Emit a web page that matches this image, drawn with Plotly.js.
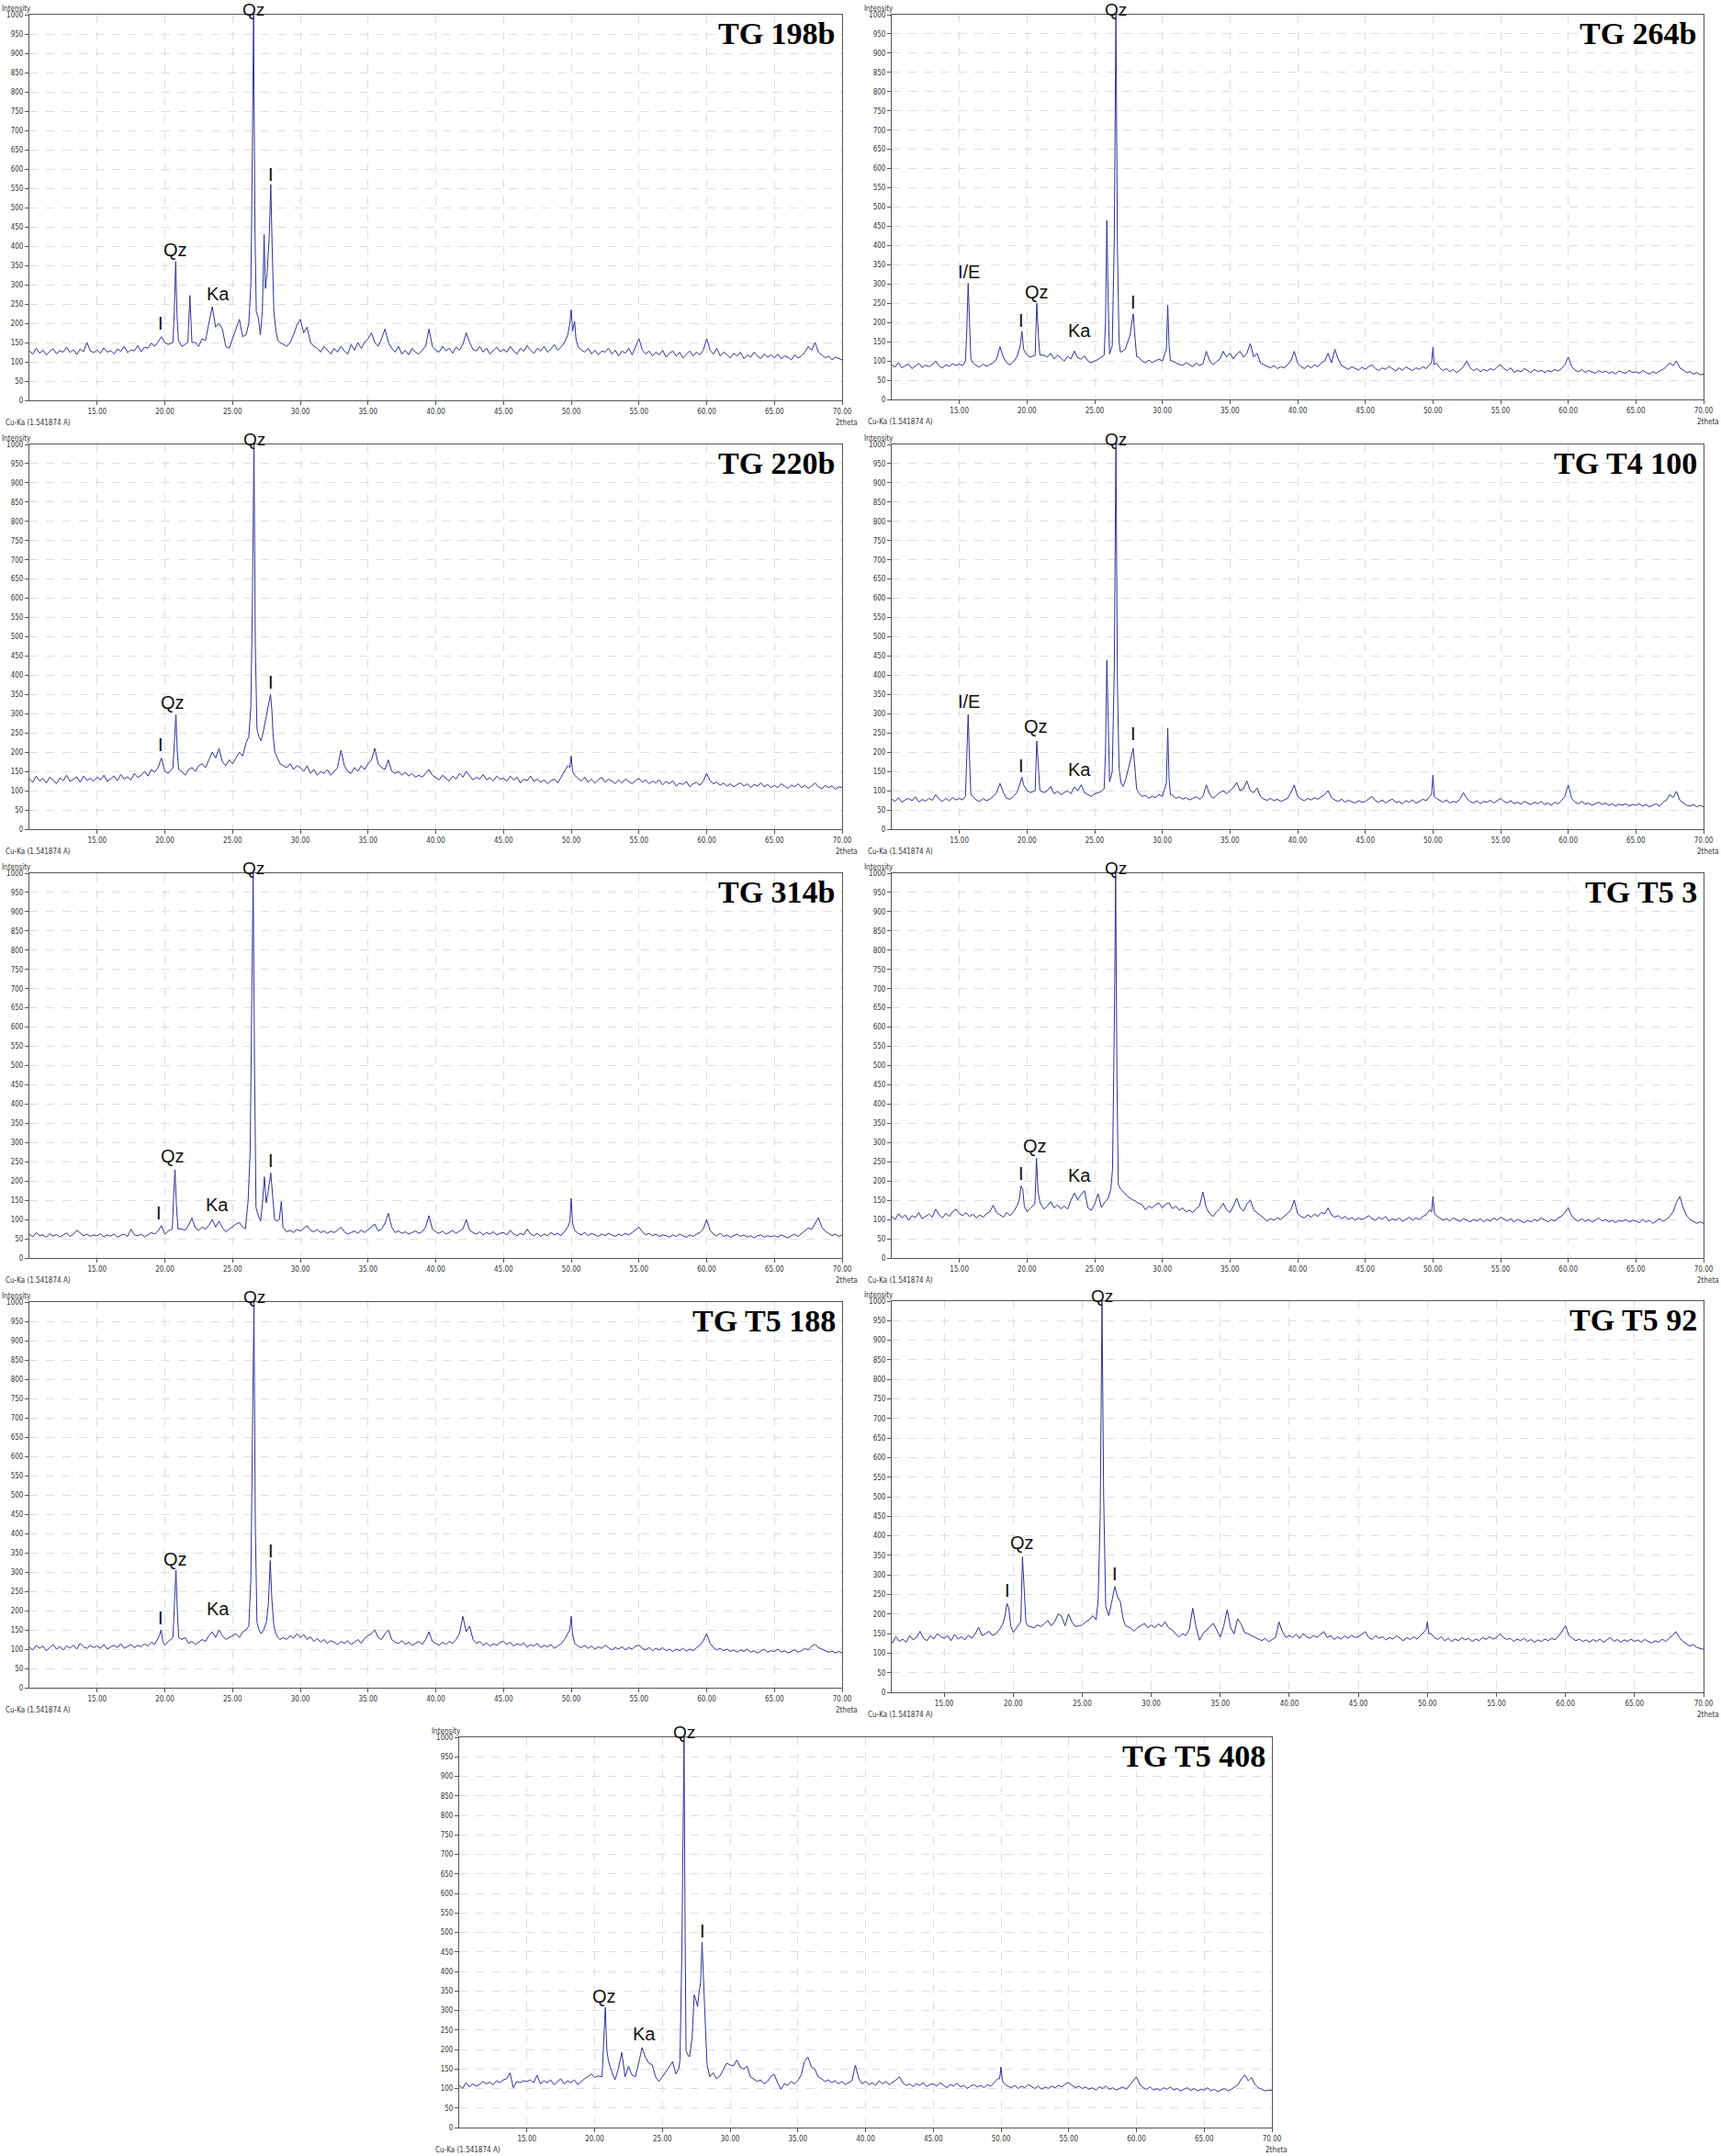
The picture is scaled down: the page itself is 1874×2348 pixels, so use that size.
<!DOCTYPE html>
<html><head><meta charset="utf-8">
<script src="https://cdn.plot.ly/plotly-3.0.1.min.js"></script>
<style>html,body{margin:0;padding:0;background:#fff;}#chart{width:1874px;height:2348px;}</style>
</head><body><div id="chart"></div>
<script>
// 2theta scan sampling (degrees)
const scanStart = 10, scanStep = 0.25;
const xTickVals = [15, 20, 25, 30, 35, 40, 45, 50, 55, 60, 65, 70];
const panelNames = ['TG 198b', 'TG 264b', 'TG 220b', 'TG T4 100', 'TG 314b', 'TG T5 3', 'TG T5 188', 'TG T5 92', 'TG T5 408'];
const xStart = [10, 10, 10, 10, 10, 10, 10, 11.2, 10];

// ---- TG 198b ----
const y198b = [
128,120,135,122,130,118,127,134,121,129,125,138,124,131,119,133,126,150,128,124,
130,122,136,125,129,120,133,127,140,124,131,128,142,126,138,135,148,140,152,165,
150,145,150,360,150,140,145,200,200,150,140,160,155,200,243,190,200,185,140,135,
160,185,210,165,170,300,1000,230,170,430,330,560,230,170,150,145,140,150,170,195,
210,175,190,150,140,135,125,140,130,120,135,125,140,128,120,145,130,150,135,150,
160,175,150,140,160,185,150,135,125,140,120,130,118,135,125,120,130,140,185,140,
130,125,140,128,135,122,138,130,145,175,150,132,128,140,125,135,120,130,138,126,
132,125,140,128,120,135,127,142,130,122,135,128,140,125,133,145,130,138,150,170,
230,200,140,130,125,135,120,130,118,128,125,135,120,130,115,128,122,135,118,140,
160,130,120,128,115,125,118,130,112,122,128,115,125,110,120,128,115,125,118,130,
160,130,120,135,115,125,118,110,122,115,125,108,118,112,125,115,108,120,112,118,
110,120,108,115,112,105,118,110,115,125,140,130,150,125,118,110,115,105,112,108,
105];
const pk198bX = [20.6,20.7,20.8,20.9,21.0, 21.7,21.85,22.0, 26.2,26.35,26.45,26.55,26.65,26.75,26.9,27.05,27.2,27.33,27.42,27.55,27.7,27.82,27.92,28.05,28.2,28.35, 49.9,50.0,50.1,50.25,50.35];
const pk198bY = [150,230,360,220,155, 150,272,150, 200,300,600,1000,450,230,215,170,230,430,290,330,420,560,400,230,180,155, 200,235,180,205,160];
const lab198bText = ['Qz','I','Ka','I'];
const lab198bX = [20.8, 19.7, 23.95, 27.8];
const lab198bY = [372, 180, 256, 566];

// ---- TG 264b ----
const y264b = [
90,84,96,82,88,92,80,86,94,83,89,85,91,100,87,82,90,86,93,88,
92,88,300,200,95,88,84,92,86,90,95,105,137,110,95,90,98,110,150,175,
115,110,250,250,115,115,110,120,105,115,108,100,112,105,126,108,105,113,100,95,
100,104,110,300,250,400,1000,150,125,130,145,222,175,110,100,95,102,96,100,105,
100,125,245,100,95,92,88,96,90,85,95,88,92,125,100,90,98,105,125,110,
120,105,118,125,110,120,145,110,120,95,90,85,82,88,80,85,82,90,100,125,
95,85,80,88,82,90,85,95,100,120,95,130,105,88,82,78,85,80,76,84,
78,85,90,80,75,82,78,86,80,74,82,76,84,80,75,82,78,85,80,90,
135,95,82,75,80,72,78,70,76,85,100,82,75,80,72,78,74,80,76,85,
90,80,75,82,70,76,72,80,74,70,78,72,76,70,75,72,78,74,80,90,
110,85,76,72,78,70,75,72,68,75,70,74,68,72,66,74,70,68,75,70,
72,68,75,70,66,72,68,74,78,85,95,88,100,82,75,70,72,66,70,64,
66];
const pk264bX = [15.45,15.55,15.65,15.75,15.85, 19.5,19.62,19.75, 20.6,20.72,20.85,20.95, 25.7,25.8,25.9,26.0,26.1,26.3,26.45,26.57,26.68,26.8,26.9,27.05, 27.6,27.72,27.85,27.95,28.1, 30.3,30.4,30.5,30.6, 49.9,50.0,50.1];
const pk264bY = [100,180,302,200,105, 140,177,130, 115,250,160,115, 115,200,465,250,118,140,420,1000,400,150,123,125, 165,190,222,175,112, 130,245,140,100, 95,135,90];
const lab264bText = ['I/E','I','Qz','Ka','I'];
const lab264bX = [15.7, 19.6, 20.73, 23.85, 27.85];
const lab264bY = [312, 186, 260, 160, 233];

// ---- TG 220b ----
const y220b = [
130,122,138,125,132,120,135,128,118,133,126,140,124,130,136,122,138,127,132,125,
135,128,140,124,132,138,126,142,130,136,128,145,134,140,150,138,155,148,160,185,
150,145,298,298,155,150,140,155,160,150,165,170,160,180,200,185,210,175,165,180,
170,185,200,190,225,320,1000,260,240,250,300,350,240,190,170,165,160,170,155,165,
160,150,165,145,155,140,150,145,155,140,150,160,205,165,150,145,160,150,165,155,
170,180,210,170,160,155,180,150,145,150,140,148,138,145,135,140,135,145,155,140,
135,128,140,132,125,138,130,145,135,150,140,128,135,130,142,128,134,125,138,130,
132,125,138,128,135,120,130,126,138,124,130,122,128,118,126,130,120,135,150,165,
190,140,132,125,135,122,130,120,128,135,122,130,125,118,128,120,130,124,118,126,
132,122,128,118,125,120,128,115,124,118,126,112,120,116,124,110,118,122,114,125,
145,125,118,122,114,120,112,118,110,116,120,112,118,108,116,112,120,110,116,108,
114,108,118,112,106,115,110,118,108,114,106,112,120,110,105,114,108,112,104,110,
108];
const pk220bX = [20.6,20.72,20.82,20.92,21.02, 26.2,26.35,26.47,26.58,26.68,26.8,26.95,27.1,27.25,27.4,27.55,27.7,27.8,27.9,28.0,28.12, 49.9,50.0,50.1];
const pk220bY = [160,230,298,200,155, 240,320,600,1000,480,260,240,230,250,280,300,330,350,310,240,200, 160,190,150];
const lab220bText = ['I','Qz','I'];
const lab220bX = [19.7, 20.6, 27.8];
const lab220bY = [200, 310, 362];

// ---- TG T4 100 ----
const yT4100 = [
78,72,82,70,76,80,74,84,71,77,73,80,75,90,78,72,80,74,82,76,
80,76,298,180,85,76,72,80,74,78,85,95,119,95,80,78,85,95,135,115,
100,95,229,229,100,95,100,111,92,98,90,95,100,92,110,100,115,95,90,85,
92,95,98,439,240,420,1000,159,111,140,159,210,170,95,85,88,80,86,82,90,
85,110,262,88,80,84,78,82,76,80,84,78,85,115,90,80,88,95,100,92,
100,108,121,100,105,125,100,95,107,85,78,75,80,74,78,72,76,80,95,115,
85,78,74,80,76,82,78,85,90,100,82,76,72,78,70,75,72,68,74,70,
72,78,85,74,70,76,68,74,78,70,72,66,74,70,76,68,72,78,74,85,
140,80,74,70,76,68,72,70,78,95,80,72,68,74,66,72,70,75,68,74,
80,72,68,74,66,70,65,72,68,64,70,66,72,64,68,62,70,66,74,85,
115,80,70,66,72,65,68,62,66,70,64,68,62,66,60,65,62,66,60,64,
62,66,60,64,58,62,66,60,70,75,90,82,98,75,68,62,60,64,58,62,
58];
const pkT4100X = [15.45,15.55,15.65,15.75,15.85, 19.5,19.62,19.75, 20.6,20.72,20.85,20.95, 25.7,25.8,25.9,26.0,26.1,26.3,26.45,26.57,26.68,26.8,26.95,27.1,27.3,27.5,27.7,27.85,27.95,28.1, 30.3,30.4,30.5,30.6, 49.9,50.0,50.1];
const pkT4100Y = [85,170,298,180,90, 120,135,115, 100,229,140,100, 105,200,439,240,123,150,420,1000,380,159,120,111,130,159,185,210,170,105, 120,262,130,90, 90,140,85];
const labT4100Text = ['I/E','I','Qz','Ka','I'];
const labT4100X = [15.7, 19.6, 20.68, 23.9, 27.85];
const labT4100Y = [312, 145, 248, 136, 228];

// ---- TG 314b ----
const y314b = [
62,55,66,58,60,54,63,57,61,55,59,65,56,62,72,64,58,62,56,60,
58,63,55,60,57,62,54,59,62,56,75,60,58,62,55,60,66,62,70,84,
62,70,229,229,76,75,72,85,104,78,72,80,75,85,100,80,96,78,68,75,
82,88,92,80,76,600,1000,131,96,211,170,221,100,96,100,85,68,72,66,74,
70,78,84,72,68,74,66,70,64,70,66,72,80,68,62,66,70,64,72,66,
74,80,88,70,75,90,116,80,66,70,64,68,62,66,70,64,68,80,110,75,
68,64,70,62,66,72,64,70,75,100,72,66,62,68,60,66,62,68,60,64,
66,60,72,62,58,64,60,75,62,58,64,56,62,58,66,60,64,58,68,80,
155,72,64,60,66,58,64,60,56,62,58,64,60,56,62,58,64,60,66,72,
80,68,60,64,58,62,56,60,58,54,60,56,62,58,54,60,56,62,66,75,
100,72,62,58,64,56,60,54,58,62,56,60,54,58,52,58,60,54,58,55,
58,54,60,56,52,58,62,56,64,70,78,74,88,105,80,70,64,58,62,56,
60];
const pk314bX = [20.55,20.65,20.75,20.85,20.97, 25.95,26.15,26.3,26.42,26.52,26.62,26.73,26.9,27.07,27.2,27.35,27.48,27.62,27.82,27.95,28.1,28.25,28.45,28.6,28.72, 49.9,50.0,50.1];
const pk314bY = [75,160,229,140,76, 76,150,280,600,1000,500,131,110,96,140,211,143,170,221,160,100,96,100,147,80, 95,155,90];
const lab314bText = ['I','Qz','Ka','I'];
const lab314bX = [19.55, 20.6, 23.84, 27.8];
const lab314bY = [98, 247, 120, 234];

// ---- TG T5 3 ----
const yT53 = [
108,100,115,104,112,98,110,105,118,102,108,114,106,127,112,104,116,108,120,127,
115,110,118,108,114,104,112,106,115,120,137,118,112,106,118,110,120,135,187,180,
120,130,259,259,143,127,135,147,130,138,128,135,127,150,169,151,165,175,130,124,
140,167,131,145,155,600,1000,191,174,165,158,152,148,142,139,125,135,130,138,143,
130,140,143,128,135,124,130,120,124,118,128,135,171,130,115,108,120,128,142,125,
118,135,155,130,122,140,151,125,118,110,104,96,102,98,105,100,108,115,125,150,
115,108,104,112,106,114,108,118,115,130,112,106,110,102,108,100,105,98,104,100,
104,110,102,98,106,100,108,96,102,98,104,95,100,106,98,104,100,108,112,125,
160,110,104,98,102,96,104,100,95,102,98,94,100,96,102,94,100,96,104,98,
106,100,96,102,94,100,96,92,98,94,100,96,104,98,94,100,96,104,108,118,
130,110,100,96,102,95,100,94,98,104,96,100,94,98,92,98,95,100,94,98,
96,92,100,94,98,90,96,102,95,100,108,120,145,160,130,110,100,95,90,94,
90];
const pkT53X = [19.42,19.55,19.68,19.8, 20.58,20.7,20.82,20.97, 26.2,26.32,26.45,26.55,26.65,26.75,26.9,27.06, 49.9,50.0,50.12];
const pkT53Y = [150,187,180,135, 140,259,170,143, 180,231,600,1000,450,191,180,174, 120,160,115];
const labT53Text = ['I','Qz','Ka'];
const labT53X = [19.55, 20.56, 23.9];
const labT53Y = [200, 273, 196];

// ---- TG T5 188 ----
const yT5188 = [
105,98,110,102,108,96,104,112,100,106,98,108,103,110,100,115,106,102,110,104,
108,102,112,100,106,110,104,114,102,108,112,104,110,106,114,108,118,112,135,150,
110,120,230,305,130,125,130,115,120,112,118,125,120,135,145,130,150,135,125,130,
135,140,130,145,150,280,1000,170,140,150,170,330,160,130,125,130,125,135,128,140,
130,138,125,132,120,128,118,125,115,122,118,112,120,115,122,112,118,125,115,128,
135,140,150,130,125,140,150,125,118,115,122,112,118,110,115,120,112,125,145,120,
115,110,118,112,120,115,125,140,185,145,160,125,115,120,110,116,108,114,110,118,
120,112,118,108,114,110,116,105,112,108,115,104,110,106,112,102,108,114,125,140,
185,115,108,104,110,102,108,100,106,102,110,104,98,104,100,106,98,104,100,108,
110,102,98,104,96,102,98,104,96,100,94,100,96,102,95,100,96,104,110,122,
140,115,104,98,102,96,100,94,98,92,98,94,100,92,96,90,95,100,92,96,
94,100,92,96,90,95,98,92,96,102,98,108,112,104,100,96,92,95,90,94,
90];
const pkT5188X = [19.6,19.72,19.85, 20.6,20.72,20.82,20.92,21.02, 26.2,26.35,26.47,26.58,26.68,26.8,26.95,27.1,27.3,27.5,27.65,27.78,27.9,28.05,28.2,28.35, 49.9,50.0,50.1];
const pkT5188Y = [135,150,120, 130,230,305,200,130, 160,280,600,1000,420,170,150,140,150,170,220,330,230,160,140,130, 150,185,140];
const labT5188Text = ['I','Qz','Ka','I'];
const labT5188X = [19.7, 20.8, 23.9, 27.8];
const labT5188Y = [162, 314, 185, 335];

// ---- TG T5 92 ----
const yT592 = [
135,128,140,132,138,126,142,130,136,128,145,134,140,156,138,132,145,136,150,142,
138,145,132,148,136,142,134,146,138,150,166,145,150,156,145,150,160,175,227,215,
153,165,346,346,170,168,165,172,168,175,184,170,180,200,195,170,200,180,168,170,
172,180,185,196,185,450,1000,219,225,270,245,231,190,168,165,156,165,170,176,165,
172,165,175,168,180,165,160,150,141,150,145,160,215,165,133,150,160,168,176,160,
141,170,211,165,149,188,175,153,150,145,140,135,132,138,129,135,140,180,155,140,
145,140,148,138,150,142,138,145,140,148,155,140,145,135,142,136,144,138,146,140,
142,148,155,140,135,145,138,142,134,140,136,145,138,132,140,135,142,136,145,155,
180,150,140,135,142,132,138,130,136,132,140,134,138,130,136,132,140,135,142,136,
140,150,140,135,138,130,136,132,138,130,135,128,134,130,136,132,138,134,145,155,
170,145,138,132,136,130,134,128,135,130,136,128,134,140,130,135,128,134,130,136,
130,134,128,135,130,126,132,128,136,130,138,145,155,140,130,125,118,122,115,112,
110];
const pkT592X = [19.4,19.55,19.68,19.82, 20.55,20.67,20.8,20.92,21.05, 26.15,26.3,26.43,26.55,26.7,26.92,27.1,27.36,27.55,27.76,27.95,28.1, 49.9,50.0,50.1];
const pkT592Y = [195,227,215,170, 180,346,250,180,170, 235,450,1000,500,219,196,225,270,245,231,190,172, 160,180,150];
const labT592Text = ['I','Qz','I'];
const labT592X = [19.55, 20.64, 27.36];
const labT592Y = [241, 364, 284];

// ---- TG T5 408 ----
const yT5408 = [
108,100,115,104,112,106,110,118,112,116,110,120,115,122,125,140,102,118,115,120,
118,122,115,134,112,120,115,122,110,118,125,112,120,115,122,110,118,125,130,137,
128,132,308,308,170,145,122,150,192,130,157,135,130,165,205,180,165,161,130,118,
130,141,155,169,137,448,1000,196,181,340,310,475,291,161,130,140,125,132,150,165,
160,158,173,155,150,157,130,125,118,122,112,118,130,137,115,98,112,108,118,112,
120,135,170,181,155,150,130,125,118,122,115,120,112,118,110,115,120,160,125,112,
118,110,115,108,120,112,118,110,115,122,130,115,108,112,105,112,108,115,105,110,
112,106,115,108,102,110,106,114,104,108,100,106,110,104,108,102,110,106,115,125,
155,112,106,102,108,100,106,102,110,104,100,106,98,104,100,106,102,108,104,112,
115,108,102,106,100,104,98,102,96,104,100,106,98,102,96,100,104,98,108,118,
130,110,102,98,104,96,100,95,102,98,104,96,100,94,98,102,95,100,94,98,
96,102,94,98,92,97,100,94,98,104,110,125,135,120,128,110,102,98,94,96,
95];
const pkT5408X = [20.55,20.68,20.79,20.9,21.02, 26.2,26.3,26.44,26.52,26.6,26.68,26.75,26.9,27.0,27.2,27.35,27.45,27.6,27.72,27.82,27.93,28.02,28.14,28.3, 49.9,50.0,50.1];
const pkT5408Y = [130,250,308,200,170, 150,173,448,700,1000,500,196,185,181,230,340,330,310,350,370,475,380,291,161, 125,155,120];
const labT5408Text = ['Qz','Ka','I'];
const labT5408X = [20.7, 23.66, 27.95];
const labT5408Y = [318, 222, 485];

// main quartz peak label position (2theta)
const qzTopX = [26.55, 26.57, 26.58, 26.57, 26.52, 26.55, 26.58, 26.43, 26.6];

const gridSeries = [y198b, y264b, y220b, yT4100, y314b, yT53, yT5188, yT592, yT5408];
const peakX = [pk198bX, pk264bX, pk220bX, pkT4100X, pk314bX, pkT53X, pkT5188X, pkT592X, pkT5408X];
const peakY = [pk198bY, pk264bY, pk220bY, pkT4100Y, pk314bY, pkT53Y, pkT5188Y, pkT592Y, pkT5408Y];
const labText = [lab198bText, lab264bText, lab220bText, labT4100Text, lab314bText, labT53Text, labT5188Text, labT592Text, labT5408Text];
const labX = [lab198bX, lab264bX, lab220bX, labT4100X, lab314bX, labT53X, labT5188X, labT592X, labT5408X];
const labY = [lab198bY, lab264bY, lab220bY, labT4100Y, lab314bY, labT53Y, labT5188Y, labT592Y, labT5408Y];

// panel pixel boxes [left, right, top, bottom] (layout)
const boxes = [[32,917,16,436],[971,1855,16,435],[32,917,484,903],[971,1855,484,903],
  [32,917,951,1370],[971,1855,951,1370],[32,917,1418,1838],[971,1855,1417,1843],[500,1385,1892,2317]];

function buildSeries(gridY, pkX, pkY) {
  const pts = [];
  gridY.forEach((v, i) => {
    const x = scanStart + i * scanStep;
    if (!pkX.some(px => Math.abs(px - x) < 0.125)) pts.push([x, v]);
  });
  pkX.forEach((x, i) => pts.push([x, pkY[i]]));
  pts.sort((a, b) => a[0] - b[0]);
  return { x: pts.map(p => p[0]), y: pts.map(p => p[1]) };
}

const W = 1874, H = 2348;
const smallFont = { family: 'DejaVu Sans Condensed, DejaVu Sans, sans-serif', size: 8, color: '#333' };
const labelFont = { family: 'Liberation Sans, Arial, sans-serif', size: 20, color: '#111' };
const topLabelFont = { family: 'Liberation Sans, Arial, sans-serif', size: 19, color: '#111' };
const traces = [];
const annotations = [];
const layout = { width: W, height: H, margin: { l: 0, r: 0, t: 0, b: 0 }, paper_bgcolor: '#fff', plot_bgcolor: '#fff', showlegend: false, annotations: annotations };

panelNames.forEach((name, i) => {
  const n = i === 0 ? '' : String(i + 1);
  const xa = 'x' + n, ya = 'y' + n;
  const [l, r, t, b] = boxes[i];
  const s = buildSeries(gridSeries[i], peakX[i], peakY[i]);
  traces.push({ x: s.x, y: s.y, xaxis: xa, yaxis: ya, type: 'scatter', mode: 'lines',
    line: { color: '#30309a', width: 1 }, hoverinfo: 'skip' });
  layout['xaxis' + n] = { domain: [l / W, r / W], anchor: ya, range: [xStart[i], 70],
    tickmode: 'array', tickvals: xTickVals, ticktext: xTickVals.map(v => v.toFixed(2)),
    ticks: 'outside', ticklen: 4, tickcolor: '#555', showline: true, linecolor: '#555', linewidth: 1, mirror: true,
    showgrid: true, gridcolor: '#dedede', griddash: 'dash', gridwidth: 1, zeroline: false,
    tickfont: smallFont, fixedrange: true };
  layout['yaxis' + n] = { domain: [1 - b / H, 1 - t / H], anchor: xa, range: [0, 1000],
    tick0: 0, dtick: 50, ticks: 'outside', ticklen: 4, tickcolor: '#555', showline: true, linecolor: '#555', linewidth: 1, mirror: true,
    showgrid: true, gridcolor: '#dedede', griddash: 'dash', gridwidth: 1, zeroline: false,
    tickfont: smallFont, fixedrange: true };

  annotations.push({ xref: xa + ' domain', yref: ya + ' domain', x: 1, y: 1, xanchor: 'right', yanchor: 'top',
    xshift: -5, yshift: 0, showarrow: false, text: '<b>' + name + '</b>',
    font: { family: 'Liberation Serif, Times New Roman, serif', size: 34, color: '#000' } });
  annotations.push({ xref: xa + ' domain', yref: ya + ' domain', x: 0, y: 1, xanchor: 'right', yanchor: 'bottom',
    xshift: 4, yshift: 0, showarrow: false, text: 'Intensity', font: smallFont });
  annotations.push({ xref: xa + ' domain', yref: ya + ' domain', x: 0, y: 0, xanchor: 'left', yanchor: 'top',
    xshift: -28, yshift: -18, showarrow: false, text: 'Cu-Ka (1.541874 A)', font: smallFont });
  annotations.push({ xref: xa + ' domain', yref: ya + ' domain', x: 1, y: 0, xanchor: 'center', yanchor: 'top',
    xshift: 5, yshift: -18, showarrow: false, text: '2theta', font: smallFont });
  annotations.push({ xref: xa, yref: ya + ' domain', x: qzTopX[i], y: 1, xanchor: 'center', yanchor: 'bottom',
    yshift: -6, borderpad: 0, showarrow: false, text: 'Qz', font: topLabelFont });
  labText[i].forEach((txt, k) => {
    annotations.push({ xref: xa, yref: ya, x: labX[i][k], y: labY[i][k], xanchor: 'center', yanchor: 'bottom',
      yshift: -5, showarrow: false, text: txt, font: labelFont });
  });
});

Plotly.newPlot('chart', traces, layout, { staticPlot: true });
</script>
</body></html>
